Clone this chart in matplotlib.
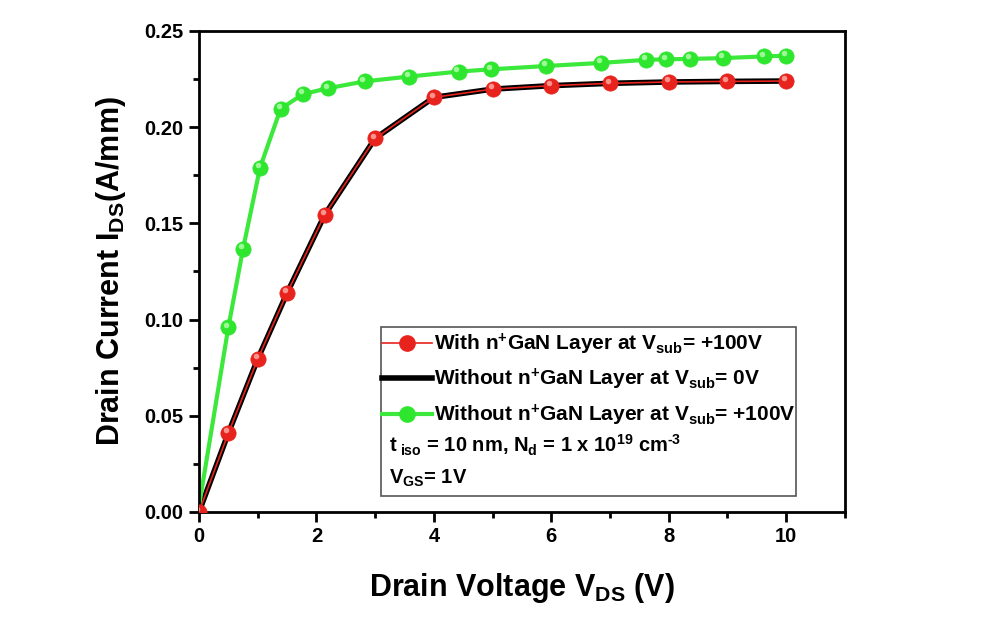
import matplotlib
matplotlib.use("Agg")
import matplotlib.pyplot as plt
import matplotlib.transforms as mtransforms
from matplotlib.patches import Rectangle
from matplotlib.lines import Line2D
from matplotlib.ticker import MultipleLocator

plt.rcParams['font.family'] = ['Liberation Sans', 'DejaVu Sans']
plt.rcParams['font.weight'] = 'bold'
plt.rcParams['mathtext.fontset'] = 'custom'
plt.rcParams['mathtext.rm'] = 'Liberation Sans:bold'
plt.rcParams['mathtext.bf'] = 'Liberation Sans:bold'
plt.rcParams['mathtext.it'] = 'Liberation Sans:bold'
plt.rcParams['mathtext.default'] = 'bf'

# with n+ GaN layer, Vsub = +100V (red) and without, Vsub = 0V (black) overlap
vds_red = [0, 0.5, 1.0, 1.5, 2.14, 3.0, 4.0, 5.0, 6.0, 7.0, 8.0, 9.0, 10.0]
ids_red = [0.0, 0.041, 0.0795, 0.1138, 0.1544, 0.1942, 0.2155, 0.2198, 0.2216, 0.2228, 0.2235, 0.2238, 0.224]
vds_black = vds_red
ids_black = [0.0, 0.041, 0.0795, 0.1138, 0.1544, 0.1942, 0.2155, 0.2198, 0.2216, 0.2228, 0.2235, 0.2238, 0.224]

# without n+ GaN layer, Vsub = +100V (green)
vds_green = [0, 0.5, 0.75, 1.04, 1.39, 1.77, 2.19, 2.82, 3.57, 4.42, 4.98, 5.91, 6.84,
             7.61, 7.96, 8.37, 8.92, 9.63, 10.0]
ids_green = [0.003, 0.096, 0.1367, 0.179, 0.2095, 0.2172, 0.2202, 0.2238, 0.2263, 0.2289,
             0.2301, 0.2318, 0.2334, 0.235, 0.2353, 0.2355, 0.2359, 0.2368, 0.2372]

fig = plt.figure(figsize=(9.88, 6.2), dpi=100)
ax = fig.add_axes([0.2014, 0.1742, 0.6538, 0.7758])

def sphere(x, y, face, light, lw=0, lc=None, zorder=3):
    # marker with a small highlight to mimic the shaded balls
    ax.plot(x, y, '-', color=lc if lc else face, lw=lw, marker='o', ms=11,
            mfc=face, mec=face, mew=0.5, zorder=zorder)
    tr = mtransforms.offset_copy(ax.transData, fig=fig, x=-1.5, y=2.0, units='points')
    ax.plot(x, y, 'o', ms=4, mfc=light, mec='none', transform=tr, zorder=zorder + 0.1, alpha=0.8)

ax.plot(vds_black, ids_black, '-', color='black', lw=4, zorder=2)
sphere(vds_red, ids_red, '#e8231d', '#ffb0a8', lw=1.2, lc='#e8231d', zorder=3)
sphere(vds_green[1:], ids_green[1:], '#2ee62e', '#b8ffb0', zorder=3)
ax.plot(vds_green, ids_green, '-', color='#3de83d', lw=3, zorder=2.5)

ax.set_xlim(0, 11)
ax.set_ylim(0, 0.25)
ax.xaxis.set_minor_locator(MultipleLocator(1))
ax.yaxis.set_major_locator(MultipleLocator(0.05))
ax.yaxis.set_minor_locator(MultipleLocator(0.025))
ax.set_xticks([0, 2, 4, 6, 8, 10])
ax.yaxis.set_major_formatter(plt.FormatStrFormatter('%.2f'))
ax.tick_params(which='major', direction='out', length=7, width=2, labelsize=14.5, pad=4)
ax.tick_params(which='minor', direction='out', length=4, width=2)
for s in ax.spines.values():
    s.set_linewidth(2)

ax.set_xlabel(r'Drain Voltage V$_{DS}$ (V)', fontsize=22, fontweight='bold', labelpad=18)
ax.set_ylabel(r'Drain Current I$_{DS}$(A/mm)', fontsize=22, fontweight='bold', labelpad=12)

# legend inside a box that also holds the parameter notes
h_red = Line2D([], [], color='#e8231d', lw=1.2, marker='o', ms=11, mfc='#e8231d', mec='#e8231d')
h_black = Line2D([], [], color='black', lw=4)
h_green = Line2D([], [], color='#3de83d', lw=3, marker='o', ms=11, mfc='#2ee62e', mec='#2ee62e')
leg = ax.legend([h_red, h_black, h_green],
                [r'With n$^{+}$GaN Layer at V$_{sub}$= +100V',
                 r'Without n$^{+}$GaN Layer at V$_{sub}$= 0V',
                 r'Without n$^{+}$GaN Layer at V$_{sub}$= +100V'],
                loc='upper left', bbox_to_anchor=(0.27, 0.393), frameon=False,
                prop={'size': 15, 'weight': 'bold'}, handlelength=2.4, handletextpad=0.1,
                labelspacing=0.5, borderaxespad=0)
ax.text(0.294, 0.138, r't$_{\ iso}$ = 10 nm, N$_{d}$ = 1 x 10$^{19}$ cm$^{\text{-}3}$', transform=ax.transAxes,
        fontsize=14.5, fontweight='bold', va='center')
ax.text(0.294, 0.07, r'V$_{GS}$= 1V', transform=ax.transAxes,
        fontsize=14.5, fontweight='bold', va='center')
ax.add_patch(Rectangle((0.282, 0.033), 0.642, 0.352, transform=ax.transAxes,
                       fill=False, ec='#555555', lw=1.2, zorder=5))

fig.savefig('out.png', dpi=100)
